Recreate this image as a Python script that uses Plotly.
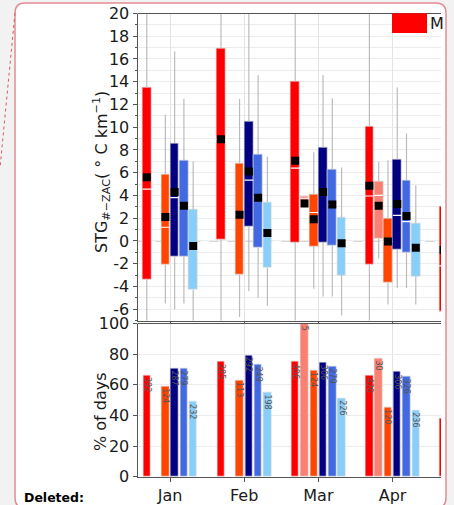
import plotly.graph_objects as go

# ---------------- data ----------------
months = ["Jan", "Feb", "Mar", "Apr", "May"]
series_colors = ["#ff0000", "#fa8072", "#ff4500", "#000080", "#4169e1", "#87cefa"]

# box statistics per series (one value per month, None = absent)
q3 = [
    [13.5, 16.95, 14.05, 10.05, 3.0],
    [None, None, 3.9, 5.25, None],
    [5.85, 6.8, 4.1, 1.95, None],
    [8.6, 10.5, 8.2, 7.2, None],
    [7.1, 7.6, 6.3, 5.35, None],
    [2.75, 3.4, 2.05, 1.5, None],
]
q1 = [
    [-3.4, 0.1, -0.1, -2.1, -6.25],
    [None, None, 3.55, 0.2, None],
    [-2.1, -2.95, -0.45, -3.65, None],
    [-1.35, 1.25, -0.1, -0.75, None],
    [-1.35, -0.6, -0.4, -1.0, None],
    [-4.3, -2.35, -3.0, -3.1, None],
]
median = [
    [4.55, 8.95, 6.4, 3.95, -2.2],
    [None, None, 3.75, 4.0, None],
    [1.2, 2.3, 2.5, -0.05, None],
    [3.8, 5.35, 4.3, 2.25, None],
    [3.1, 3.8, 3.2, 1.7, None],
    [-0.45, 0.7, -0.2, -0.6, None],
]
mean = [
    [5.6, 8.95, 7.05, 4.85, -0.8],
    [None, None, 3.3, 3.1, None],
    [2.1, 2.3, 1.9, -0.05, None],
    [4.3, 6.1, 4.3, 3.25, None],
    [3.1, 3.8, 3.2, 2.2, None],
    [-0.45, 0.7, -0.2, -0.6, None],
]
upper = [
    [22, 22, 22, 22, 22],
    [None, None, 3.95, 6.95, None],
    [11.1, 12.5, 7.8, 7.1, None],
    [16.65, 22, 14.6, 13.5, None],
    [12.5, 14.6, 12.55, 9.45, None],
    [7.0, 7.4, 6.45, 4.9, None],
]
lower = [
    [-8, -8, -8, -8, -8],
    [None, None, 3.3, -1.55, None],
    [-5.5, -6.7, -4.2, -5.6, None],
    [-6.0, -4.4, -4.9, -4.15, None],
    [-5.5, -5.0, -4.9, -4.15, None],
    [-8, -5.7, -6.55, -5.6, None],
]

# % of days and counts
pct_days = [
    [66.2, 75.2, 75.2, 66.0, 38],
    [None, None, 99.8, 77.4, None],
    [59.2, 63.1, 69.5, 45.0, None],
    [70.6, 79.4, 74.6, 68.4, None],
    [70.6, 73.5, 72.2, 65.4, None],
    [48.9, 55.1, 51.1, 43.2, None],
]
n_days = [
    [392, 285, 406, 420, None],
    [None, None, 5, 30, None],
    [124, 113, 124, 120, None],
    [287, 292, 306, 306, None],
    [279, 249, 279, 326, None],
    [232, 198, 226, 236, None],
]

y_top_ticks = list(range(-6, 21, 2))
y_bot_ticks = [0, 20, 40, 60, 80, 100]

# ---------------- geometry helpers ----------------
W, H = 454, 505
def PX(px):
    return px / W
def PY(py):
    return 1 - py / H

SLOT = 0.125
BOXW = 0.117
BARW = 0.101
FONT = "DejaVu Sans"

fig = go.Figure()

whisk_x, whisk_y = [], []
med_x, med_y = [], []
mean_x, mean_y = [], []

for k, col in enumerate(series_colors):
    off = (k - 2.5) * SLOT
    xs, bases, hs = [], [], []
    for m in range(len(months)):
        if q3[k][m] is None:
            continue
        x = m + off
        xs.append(x)
        bases.append(q1[k][m])
        hs.append(q3[k][m] - q1[k][m])
        whisk_x += [x, x, None, x, x, None]
        whisk_y += [q3[k][m], upper[k][m], None, lower[k][m], q1[k][m], None]
        med_x += [x - BOXW / 2, x + BOXW / 2, None]
        med_y += [median[k][m], median[k][m], None]
        mean_x.append(x)
        mean_y.append(mean[k][m])
    fig.add_trace(go.Bar(x=xs, y=hs, base=bases, width=BOXW,
                         marker=dict(color=col, line=dict(color="rgba(215,215,215,0.9)", width=0.7)),
                         xaxis="x", yaxis="y", showlegend=False, hoverinfo="skip"))

fig.add_trace(go.Scatter(x=whisk_x, y=whisk_y, mode="lines",
                         line=dict(color="#bcbcbc", width=1.2),
                         xaxis="x", yaxis="y", showlegend=False, hoverinfo="skip"))
fig.add_trace(go.Scatter(x=med_x, y=med_y, mode="lines",
                         line=dict(color="white", width=1.2),
                         xaxis="x", yaxis="y", showlegend=False, hoverinfo="skip"))
fig.add_trace(go.Scatter(x=mean_x, y=mean_y, mode="markers",
                         marker=dict(symbol="square", size=8, color="black", line=dict(width=0)),
                         xaxis="x", yaxis="y", showlegend=False, hoverinfo="skip"))

annotations = []
for k, col in enumerate(series_colors):
    off = (k - 2.5) * SLOT
    xs, ys = [], []
    for m in range(len(months)):
        if pct_days[k][m] is None:
            continue
        x = m + off
        xs.append(x)
        ys.append(pct_days[k][m])
        if n_days[k][m] is not None:
            annotations.append(dict(x=x, y=pct_days[k][m], xref="x2", yref="y2",
                                    text=str(n_days[k][m]), showarrow=False, textangle=90,
                                    xanchor="center", yanchor="top",
                                    font=dict(family=FONT, size=8, color="#555555")))
    fig.add_trace(go.Bar(x=xs, y=ys, width=BARW,
                         marker=dict(color=col, line=dict(color="rgba(215,215,215,0.9)", width=0.7)),
                         xaxis="x2", yaxis="y2", showlegend=False, hoverinfo="skip"))

# axis titles and other text
annotations += [
    dict(x=PX(101), y=PY(172), xref="paper", yref="paper", showarrow=False, textangle=-90,
         text="STG<sub>#\u2212ZAC</sub>( \u00b0 C km<sup>\u22121</sup>)",
         font=dict(family=FONT, size=16, color="#1a1a1a"), xanchor="center", yanchor="middle"),
    dict(x=PX(100), y=PY(412), xref="paper", yref="paper", showarrow=False, textangle=-90,
         text="% of days", font=dict(family=FONT, size=16, color="#1a1a1a"),
         xanchor="center", yanchor="middle"),
    dict(x=PX(428), y=PY(23), xref="paper", yref="paper", showarrow=False,
         text="M", font=dict(family=FONT, size=16, color="#1a1a1a"),
         xanchor="left", yanchor="middle"),
    dict(x=PX(22), y=PY(497), xref="paper", yref="paper", showarrow=False,
         text="<b>Deleted:</b>", font=dict(family=FONT, size=12.5, color="#000000"),
         xanchor="left", yanchor="middle"),
]

# balloon frame path
L, T, R, B, r = 15, 3, 446, 508, 10
path = (f"M {PX(L+r)},{PY(T)} L {PX(R-r)},{PY(T)} Q {PX(R)},{PY(T)} {PX(R)},{PY(T+r)} "
        f"L {PX(R)},{PY(B-r)} Q {PX(R)},{PY(B)} {PX(R-r)},{PY(B)} "
        f"L {PX(L+r)},{PY(B)} Q {PX(L)},{PY(B)} {PX(L)},{PY(B-r)} "
        f"L {PX(L)},{PY(T+r)} Q {PX(L)},{PY(T)} {PX(L+r)},{PY(T)} Z")

shapes = [
    dict(type="path", path=path, xref="paper", yref="paper", layer="below",
         fillcolor="white", line=dict(color="#e48a92", width=1.5)),
    dict(type="line", xref="paper", yref="paper", x0=PX(15), y0=PY(13), x1=PX(0), y1=PY(168),
         line=dict(color="#d65a66", width=1, dash="dot")),
    # zero line
    dict(type="line", xref="x domain", yref="y", x0=0, x1=1, y0=0, y1=0, layer="below",
         line=dict(color="#9a9a9a", width=1, dash="dash")),
    # top spines
    dict(type="line", xref="paper", yref="paper", x0=PX(137.5), x1=PX(441), y0=PY(13.5), y1=PY(13.5),
         line=dict(color="#555555", width=1)),
    dict(type="line", xref="paper", yref="paper", x0=PX(137.5), x1=PX(441), y0=PY(323.5), y1=PY(323.5),
         line=dict(color="#555555", width=1)),
    # legend patch
    dict(type="rect", xref="paper", yref="paper", x0=PX(392), x1=PX(427), y0=PY(33), y1=PY(13.3),
         fillcolor="#ff0000", line=dict(width=0)),
]

xrange = [(137.5 - 170) / 74.2, (441 - 170) / 74.2]
xdom = [PX(137.5), PX(441)]

fig.update_layout(
    width=W, height=H,
    margin=dict(l=0, r=0, t=0, b=0, pad=0, autoexpand=False),
    paper_bgcolor="#f2f2f2",
    plot_bgcolor="rgba(0,0,0,0)",
    barmode="overlay",
    bargap=0,
    showlegend=False,
    font=dict(family=FONT, size=16, color="#1a1a1a"),
    xaxis=dict(domain=xdom, range=xrange, anchor="y", tickmode="array",
               tickvals=list(range(len(months))), ticktext=months, showticklabels=False,
               showgrid=True, gridcolor="#e3e3e3", gridwidth=1, zeroline=False,
               showline=True, linecolor="#555555", linewidth=1, ticks="outside", ticklen=3,
               tickcolor="#555555"),
    yaxis=dict(domain=[PY(320.5), PY(13.5)], range=[-7, 20], anchor="x",
               tickmode="array", tickvals=y_top_ticks, ticktext=[str(v) for v in y_top_ticks],
               showgrid=True, gridcolor="#ececec", zeroline=False,
               showline=True, linecolor="#555555", linewidth=1, ticks="outside", ticklen=4,
               tickcolor="#555555", tickfont=dict(size=16, family=FONT, color="#1a1a1a"),
               minor=dict(dtick=1, tick0=0, showgrid=True, gridcolor="#ececec", ticks="outside",
                          ticklen=2, tickcolor="#555555")),
    xaxis2=dict(domain=xdom, range=xrange, anchor="y2", tickmode="array",
                tickvals=list(range(len(months))), ticktext=months,
                showgrid=True, gridcolor="#e3e3e3", zeroline=False,
                showline=True, linecolor="#555555", linewidth=1, ticks="outside", ticklen=4,
                tickcolor="#555555", tickfont=dict(size=16, family=FONT, color="#1a1a1a")),
    yaxis2=dict(domain=[PY(476.7), PY(323.5)], range=[0, 100], anchor="x2",
                tickmode="array", tickvals=y_bot_ticks, ticktext=[str(v) for v in y_bot_ticks],
                showgrid=True, gridcolor="#ececec", zeroline=False,
                showline=True, linecolor="#555555", linewidth=1, ticks="outside", ticklen=4,
                tickcolor="#555555", tickfont=dict(size=16, family=FONT, color="#1a1a1a")),
    shapes=shapes,
    annotations=annotations,
)

fig.write_html("out.html", config={"displayModeBar": False},
               post_script="document.body.style.margin='0';document.body.style.overflow='hidden';")
